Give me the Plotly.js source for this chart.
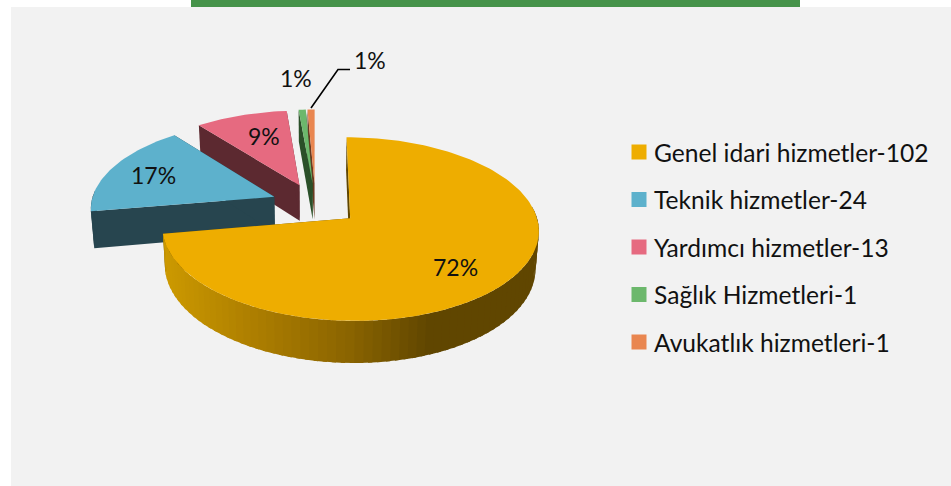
<!DOCTYPE html>
<html><head><meta charset="utf-8">
<script src="https://cdn.plot.ly/plotly-3.0.1.min.js"></script>
<style>html,body{margin:0;padding:0;background:#fff}#c{width:951px;height:486px}</style></head>
<body><div id="c"></div>
<script>
const categories = ["Genel idari hizmetler-102","Teknik hizmetler-24","Yardımcı hizmetler-13","Sağlık Hizmetleri-1","Avukatlık hizmetleri-1"];
const values = [102,24,13,1,1];
const topColors = ["#EEAD00","#5DB1CC","#E66A80","#6CB86C","#E98650"];
const wallColors = ["#604600","#27454F","#5C2930","#2B5029","#6B3A20"];
const labelX = [455,153,264,296,370];
const labelY = [267,175,136,78,60];
const leaderX = [311,338,350];
const leaderY = [108,69.5,69.5];

// 3D projection of the exploded pie
const cx=315.5, cy=204.4, Rx=183.5, Ry=87.3, k=0.115, D=36.5, pull=0.243, bottomScale=0.985;
const FONT='Lato, "Open Sans", sans-serif';
const total=values.reduce((a,b)=>a+b,0);
function proj(u,v,low){const w=1/(1-k*v);
  return [cx+Rx*u*w*(low?bottomScale:1), cy+(Ry*v+(low?D:0))*w];}
function rad(d){return d*Math.PI/180;}
function dir(t){return [Math.sin(rad(t)),-Math.cos(rad(t))];}
function poly(pts,color){return {type:'scatter',mode:'lines',x:pts.map(p=>p[0]),y:pts.map(p=>p[1]),
  fill:'toself',fillcolor:color,line:{width:0},hoverinfo:'skip',showlegend:false};}
function hex(c){return [1,3,5].map(i=>parseInt(c.substr(i,2),16));}
function shade(x){ // gradient along the front wall of the main slice
  const s=[[165,"#CC9900"],[250,"#AE7F00"],[350,"#8A6400"],[430,"#604600"],[540,"#604600"]];
  for(let i=1;i<s.length;i++){ if(x<=s[i][0]){const f=Math.max(0,(x-s[i-1][0])/(s[i][0]-s[i-1][0]));
    const a=hex(s[i-1][1]),b=hex(s[i][1]);
    return 'rgb('+a.map((q,j)=>Math.round(q+(b[j]-q)*f)).join(',')+')';}}
  return s[s.length-1][1];}

let slices=[],acc=0;
values.forEach((v,i)=>{const a0=acc/total*360;acc+=v;const a1=acc/total*360;slices.push({i,a0,a1});});
const traces=[];
[4,3,2,1,0].forEach(idx=>{
  const s=slices[idx],mid=(s.a0+s.a1)/2,m=dir(mid),ou=m[0]*pull,ov=m[1]*pull;
  const at=(t,low)=>{const d=dir(t);return proj(ou+d[0],ov+d[1],low);};
  const apexT=proj(ou,ov,false),apexB=proj(ou,ov,true);
  const wall=wallColors[idx];
  // radial walls
  traces.push(poly([apexT,at(s.a0,false),at(s.a0,true),apexB],wall));
  traces.push(poly([apexT,at(s.a1,false),at(s.a1,true),apexB],wall));
  // rim: painted from the right end to the left, each piece overlapping the one before
  const step=2.5;
  const starts=[];
  for(let t=s.a0;t<s.a1-1e-6;t+=step) starts.push(t);
  starts.forEach(t=>{
    const e=Math.min(t+step,s.a1), e2=Math.min(e+1.2,s.a1);
    if(e<85) return;
    if(idx===0||e>=85&&e<=275){
      const p=[at(t,false),at(e2,false),at(e2,true),at(t,true)];
      const mx=(at(t,false)[0]+at(e,false)[0])/2;
      traces.push(poly(p,idx===0?shade(mx):wall));
    }
  });
  // top face
  const face=[apexT];
  for(let t=s.a0;t<s.a1;t+=1.5) face.push(at(t,false));
  face.push(at(s.a1,false));
  traces.push(poly(face,topColors[idx]));
});
// leader line
traces.push({type:'scatter',mode:'lines',x:leaderX,y:leaderY,line:{color:'#000',width:1.6},hoverinfo:'skip',showlegend:false});
// legend entries
categories.forEach((c,i)=>traces.push({type:'scatter',mode:'markers',x:[null],y:[null],name:c,legendgroup:c,
  marker:{symbol:'square',size:15,color:topColors[i]},hoverinfo:'skip'}));

const annotations=values.map((v,i)=>({xref:'x',yref:'y',x:labelX[i],y:labelY[i],text:Math.round(v/total*100)+'%',
  showarrow:false,xanchor:'center',yanchor:'middle',font:{family:FONT,size:23,color:'#111'}}));

const layout={width:951,height:486,margin:{l:0,r:0,t:0,b:0},paper_bgcolor:'#fff',plot_bgcolor:'#fff',
  xaxis:{range:[0,951],visible:false,fixedrange:true},
  yaxis:{range:[486,0],visible:false,fixedrange:true},
  shapes:[
    {type:'rect',xref:'x',yref:'y',x0:11,x1:951,y0:7,y1:486,fillcolor:'#F2F2F2',line:{width:0},layer:'below'},
    {type:'rect',xref:'x',yref:'y',x0:191,x1:800,y0:0,y1:7,fillcolor:'#46934A',line:{width:0},layer:'below'}
  ],
  annotations,
  legend:{x:619/951,y:1-129.5/486,xanchor:'left',yanchor:'top',bgcolor:'rgba(0,0,0,0)',tracegroupgap:12.5,
    traceorder:'grouped',itemsizing:'trace',itemclick:false,itemdoubleclick:false,
    font:{family:FONT,size:24.6,color:'#111'}},
  showlegend:true
};
Plotly.newPlot('c',traces,layout,{displayModeBar:false,staticPlot:true}).then(()=>{
  // tighten the gap between legend swatch and its text
  document.querySelectorAll('.legendtext').forEach(t=>{
    t.setAttribute('x',parseFloat(t.getAttribute('x'))-5);
    t.querySelectorAll('tspan[x]').forEach(s=>s.setAttribute('x',parseFloat(s.getAttribute('x'))-5));
  });
});
</script></body></html>
